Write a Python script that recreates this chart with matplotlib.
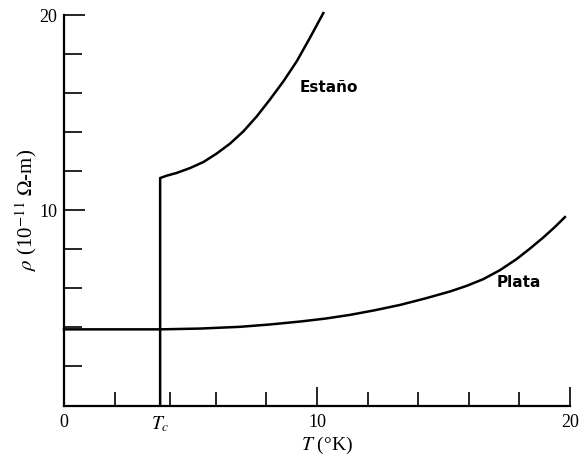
import matplotlib
matplotlib.use("Agg")
import matplotlib.pyplot as plt

plt.rcParams['mathtext.fontset'] = 'stix'

# T_c of tin (K)
tc = 3.8

# silver (Plata)
plata_T = [0, 2.0, 3.8, 5.38, 6.96, 8.14, 9.33, 10.32, 11.3, 12.29, 13.28, 14.27,
           15.26, 15.92, 16.57, 17.23, 17.89, 18.42, 18.94, 19.4, 19.8]
plata_rho = [3.9, 3.9, 3.9, 3.94, 4.03, 4.15, 4.3, 4.45, 4.64, 4.88, 5.15, 5.48,
             5.84, 6.13, 6.47, 6.93, 7.5, 8.04, 8.6, 9.14, 9.65]

# tin (Estaño): drop at T_c then normal state
estano_T = [3.8, 3.8, 4.06, 4.45, 4.98, 5.51, 6.03, 6.56, 7.09, 7.62, 8.14,
            8.67, 9.2, 9.72, 10.25]
estano_rho = [0, 11.65, 11.77, 11.91, 12.16, 12.47, 12.9, 13.41, 14.04, 14.81,
              15.67, 16.6, 17.63, 18.83, 20.1]

fig = plt.figure(figsize=(5.81, 4.62), dpi=100)
ax = fig.add_axes([64/581, 56.5/462, 506/581, 390.5/462])

ax.plot(plata_T, plata_rho, color='black', lw=1.8, clip_on=False,
        solid_joinstyle='round')
ax.plot(estano_T, estano_rho, color='black', lw=1.8, clip_on=False,
        solid_joinstyle='round')

ax.set_xlim(0, 20)
ax.set_ylim(0, 20)

for side in ['top', 'right']:
    ax.spines[side].set_visible(False)
for side in ['left', 'bottom']:
    ax.spines[side].set_linewidth(1.6)

serif = 'Liberation Serif'
ax.set_xticks([0, tc, 10, 20])
ax.set_xticklabels(['0', '$T_c$', '10', '20'], fontfamily=serif, fontsize=13)
ax.get_xticklabels()[1].set_fontsize(14)
ax.set_xticks([2, 4.2, 6, 8, 12, 14, 16, 18], minor=True)
ax.set_yticks([10, 20])
ax.set_yticklabels(['10', '20'], fontfamily=serif, fontsize=13)
ax.set_yticks([2, 4, 6, 8, 12, 14, 16, 18], minor=True)

ax.tick_params(axis='x', which='major', direction='in', length=14, width=1.2, pad=6)
ax.tick_params(axis='x', which='minor', direction='in', length=10, width=1.2)
ax.tick_params(axis='y', which='major', direction='in', length=15, width=1.2, pad=5)
ax.tick_params(axis='y', which='minor', direction='in', length=13, width=1.2)

ax.set_xlabel(r'$T$ (°K)', fontfamily=serif, fontsize=14, labelpad=1)
ax.xaxis.set_label_coords(0.52, -0.075)
ax.text(-0.074, 0.5, r'$\rho$ (10$^{-11}$ $\Omega$-m)', transform=ax.transAxes,
        rotation=90, ha='center', va='center', fontfamily=serif, fontsize=15)

ax.text(9.3, 16.3, 'Estaño', fontsize=11, fontweight='bold', va='center')
ax.text(17.1, 6.3, 'Plata', fontsize=11, fontweight='bold', va='center')

fig.savefig('out.png', dpi=100)
